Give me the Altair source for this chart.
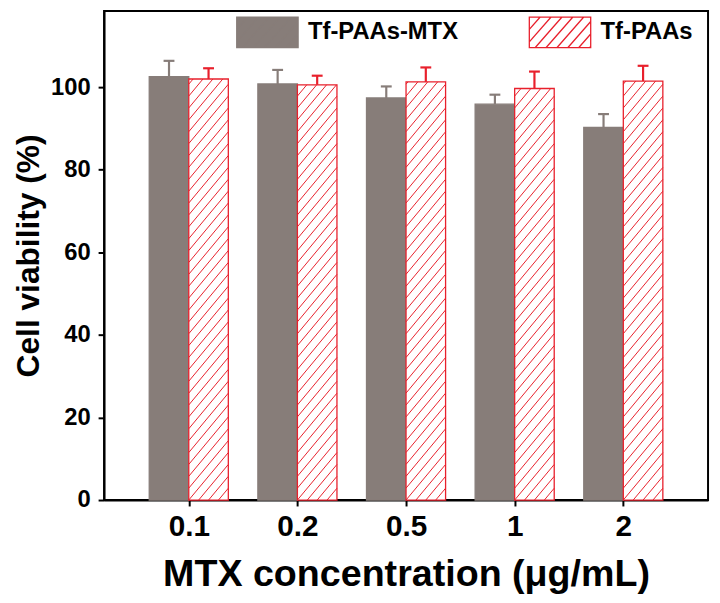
import json
import altair as alt
import pandas as pd

# ---- data ----
concentrations = ["0.1", "0.2", "0.5", "1", "2"]
series_names = ["Tf-PAAs-MTX", "Tf-PAAs"]
mtx_values = [102.6, 100.8, 97.4, 95.9, 90.3]
mtx_errors = [3.8, 3.4, 2.8, 2.3, 3.2]
paas_values = [102.0, 100.6, 101.3, 99.7, 101.5]
paas_errors = [2.6, 2.2, 3.5, 4.1, 3.7]

# ---- layout / style ----
W, H = 610, 494
X_DOM = [0.22, 5.78]
Y_DOM = [0, 118.5]
BAR_W = 0.364
CAP_HALF = 0.05
GRAY = "#877d79"
RED = "#e8202c"
FONT = "Liberation Sans"

px_x = W / (X_DOM[1] - X_DOM[0])
px_y = H / (Y_DOM[1] - Y_DOM[0])

rows = []
for i, c in enumerate(concentrations):
    pos = i + 1
    for s, vals, errs, off in [
        (series_names[0], mtx_values, mtx_errors, -1),
        (series_names[1], paas_values, paas_errors, 0),
    ]:
        x0 = pos + off * BAR_W
        xc = x0 + BAR_W / 2
        rows.append(dict(conc=c, series=s, x0=x0, x1=x0 + BAR_W, xc=xc,
                         cl=xc - CAP_HALF, cr=xc + CAP_HALF,
                         v=vals[i], e=vals[i] + errs[i]))
df = pd.DataFrame(rows)

# hatch lines for the Tf-PAAs bars (built from the bar values)
SPACING = 10.0  # px
SLOPE = 1.2
hatch = []
for r in rows:
    if r["series"] != series_names[1]:
        continue
    wp = BAR_W * px_x
    hp = r["v"] * px_y
    c = -hp / SLOPE
    c = SPACING * (int(c / SPACING) - 1)
    while c < wp:
        us = max(0.0, c)
        ue = min(wp, c + hp / SLOPE)
        if ue > us + 0.5:
            hatch.append(dict(x=r["x0"] + us / px_x, y=SLOPE * (us - c) / px_y,
                              x2=r["x0"] + ue / px_x, y2=SLOPE * (ue - c) / px_y))
        c += SPACING
hdf = pd.DataFrame(hatch)

# legend symbol: 2:1 rectangle (x in [-2,2], y in [-1,1]) with hatch strokes
SYM_H = 31.0                   # px height of swatch
unit = SYM_H / 2               # px per path unit
parts = ["M-2,-1H2V1H-2Z"]
dx = 2.0 / (SLOPE * 0.95)      # horizontal run over full height
step = 11.0 / unit
c = -2 - dx
while c < 2:
    xs, xe = c, c + dx
    ys, ye = 1.0, -1.0
    if xs < -2:
        ys = 1.0 - 2.0 * (-2 - xs) / dx
        xs = -2
    if xe > 2:
        ye = -1.0 + 2.0 * (xe - 2) / dx
        xe = 2
    if xe - xs > 0.05:
        parts.append(f"M{xs:.3f},{ys:.3f}L{xe:.3f},{ye:.3f}")
    c += step
symbol_path = "".join(parts)

fill_scale = alt.Scale(domain=series_names, range=[GRAY, "white"])
stroke_scale = alt.Scale(domain=series_names, range=[GRAY, RED])
legend = alt.Legend(
    title=None, orient="none", legendX=133 + SYM_H / 2, legendY=5,
    direction="horizontal",
    symbolType=symbol_path, symbolSize=SYM_H * SYM_H, symbolStrokeWidth=1.3,
    labelFont=FONT, labelFontSize=24, labelFontWeight="bold", labelColor="black",
    labelOffset=9 + SYM_H / 2, columnPadding=52 + SYM_H / 2, padding=0,
    labelLimit=400,
)

label_expr = f"{json.dumps(concentrations)}[datum.value - 1]"

x_enc = alt.X(
    "x0:Q",
    scale=alt.Scale(domain=X_DOM, nice=False, zero=False),
    axis=alt.Axis(
        values=[1, 2, 3, 4, 5], labelExpr=label_expr, grid=False,
        title="MTX concentration (μg/mL)", titleFont=FONT, titleFontSize=38,
        titleFontWeight="bold", titleColor="black", titlePadding=14,
        labelFont=FONT, labelFontSize=30, labelFontWeight="bold",
        labelColor="black", labelPadding=6, tickSize=6, tickWidth=2,
        tickColor="black", domainColor="black", domainWidth=2,
    ),
)
y_scale = alt.Scale(domain=Y_DOM, nice=False)
y_enc = alt.Y(
    "v:Q",
    scale=y_scale,
    axis=alt.Axis(
        values=[0, 20, 40, 60, 80, 100], grid=False,
        title="Cell viability (%)", titleFont=FONT, titleFontSize=32,
        titleFontWeight="bold", titleColor="black", titlePadding=5,
        labelFont=FONT, labelFontSize=24, labelFontWeight="bold",
        labelColor="black", labelPadding=8, tickSize=6, tickWidth=2,
        tickColor="black", domainColor="black", domainWidth=2,
    ),
)

bars = alt.Chart(df).mark_rect(strokeWidth=1.3).encode(
    x=x_enc,
    x2="x1:Q",
    y=y_enc,
    y2=alt.datum(0),
    fill=alt.Fill("series:N", scale=fill_scale, legend=legend),
    stroke=alt.Stroke("series:N", scale=stroke_scale, legend=legend),
)

hatch_layer = alt.Chart(hdf).mark_rule(color=RED, strokeWidth=1).encode(
    x="x:Q", x2="x2:Q", y="y:Q", y2="y2:Q"
)

err_color = alt.Color("series:N", scale=stroke_scale, legend=None)
err_v = alt.Chart(df).mark_rule(strokeWidth=2.2).encode(
    x="xc:Q", y="v:Q", y2="e:Q", color=err_color
)
err_cap = alt.Chart(df).mark_rule(strokeWidth=2.2).encode(
    x="cl:Q", x2="cr:Q", y="e:Q", color=err_color
)

chart = (
    alt.layer(bars, hatch_layer, err_v, err_cap)
    .properties(width=W, height=H, background="white",
                padding={"left": 4, "top": 0, "right": 4, "bottom": 0})
    .configure_view(stroke="black", strokeWidth=2)
)

chart.save("out.html", embed_options={"renderer": "svg", "actions": False})
